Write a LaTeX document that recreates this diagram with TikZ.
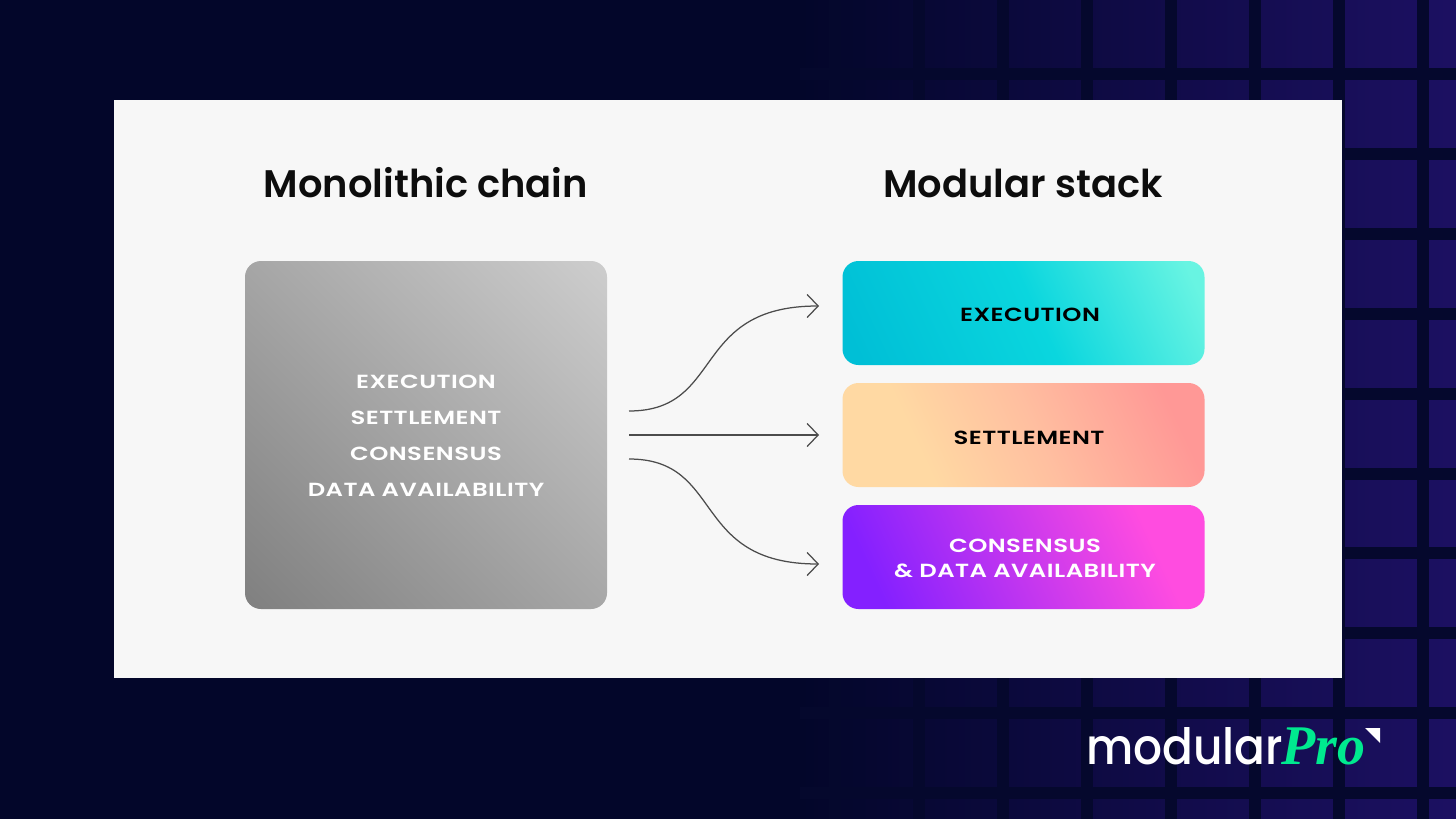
\documentclass[tikz,border=0pt]{standalone}
\usepackage{fontspec}
\usetikzlibrary{arrows.meta}
\setmainfont{Poppins}[BoldFont={Poppins SemiBold}]
\newfontfamily\widefont{Poppins SemiBold}[FakeStretch=1.28,LetterSpace=2.5]
\newfontfamily\logofont{Poppins Medium}[FakeStretch=.91]
\newfontfamily\proofont{Liberation Serif}
\definecolor{night}{HTML}{03062A}
\definecolor{gridline}{HTML}{05082D}
\definecolor{cell}{HTML}{1C1062}
\definecolor{panel}{HTML}{F7F7F7}
\definecolor{mint}{HTML}{00E98F}
\definecolor{chaina}{HTML}{808080}
\definecolor{chainb}{HTML}{CDCDCD}
\definecolor{execa}{HTML}{00BFD6}
\definecolor{execb}{HTML}{0AD6DE}
\definecolor{execc}{HTML}{68F4E2}
\definecolor{settlea}{HTML}{FFD9A3}
\definecolor{settleb}{HTML}{FFBFA0}
\definecolor{settlec}{HTML}{FF9896}
\definecolor{consa}{HTML}{8420FF}
\definecolor{consb}{HTML}{FF4CE0}
\pgfdeclareverticalshading{chainfade}{100bp}{color(0bp)=(chaina); color(15bp)=(chaina); color(85bp)=(chainb); color(100bp)=(chainb)}
\pgfdeclareverticalshading{execfade}{100bp}{color(0bp)=(execa); color(20bp)=(execa); color(52bp)=(execb); color(80bp)=(execc); color(100bp)=(execc)}
\pgfdeclareverticalshading{settlefade}{100bp}{color(0bp)=(settlea); color(32bp)=(settlea); color(52bp)=(settleb); color(76bp)=(settlec); color(100bp)=(settlec)}
\pgfdeclareverticalshading{consfade}{100bp}{color(0bp)=(consa); color(24bp)=(consa); color(72bp)=(consb); color(100bp)=(consb)}
\tikzset{
  stackbox/.style={rounded corners=16pt,minimum width=362pt,inner sep=0pt},
  stacklabel/.style={font=\widefont\fontsize{19}{25}\selectfont,align=center},
  title/.style={font=\bfseries\fontsize{38.4}{44}\selectfont,text=black!95},
  flow/.style={draw=black!70,line width=1.25pt,-{Straight Barb[length=11pt,width=23pt,line width=1.25pt]}},
}
\begin{document}
\begin{tikzpicture}[x=1pt,y=-1pt]
\useasboundingbox (0,0) rectangle (1456,819);
\fill[night] (0,0) rectangle (1456,819);
\shade[left color=night,right color=cell] (800,0) rectangle (1456,819);
\foreach \i in {0,...,7}
  \fill[gridline] (835+84*\i-6,0) rectangle (835+84*\i+6,819);
\foreach \j in {0,...,9}
  \fill[gridline] (800,74+79.9*\j-6) rectangle (1456,74+79.9*\j+6);
\fill[panel] (114,100) rectangle (1342,678);
\node[title] (monotitle) at (426,183) {Monolithic chain};
\node[title] (modtitle) at (1023,183) {Modular stack};
\node[stackbox,minimum height=348pt,shading=chainfade,shading angle=-45] (chain) at (426,435) {};
\node[stacklabel,font=\widefont\fontsize{19}{36}\selectfont,text=white] (chainlabel) at (426,436)
  {EXECUTION\\SETTLEMENT\\CONSENSUS\\DATA AVAILABILITY};
\node[stackbox,minimum height=104pt,shading=execfade,shading angle=-65] (exec) at (1023.5,313) {};
\node[stacklabel] (execlabel) at (1030,315) {EXECUTION};
\node[stackbox,minimum height=104pt,shading=settlefade,shading angle=-65] (settle) at (1023.5,435) {};
\node[stacklabel] (settlelabel) at (1029,438) {SETTLEMENT};
\node[stackbox,minimum height=104pt,shading=consfade,shading angle=-65] (consensus) at (1023.5,557) {};
\node[stacklabel,text=white] (conslabel) at (1025,558) {CONSENSUS\\\& DATA AVAILABILITY};
\coordinate (outa) at (629,411);
\coordinate (outb) at (629,435);
\coordinate (outc) at (629,459);
\coordinate (ina) at (819,306);
\coordinate (inb) at (819,435);
\coordinate (inc) at (819,564);
\draw[flow] (outa) .. controls (725,411) and (690,306) .. (ina);
\draw[flow] (outb) -- (inb);
\draw[flow] (outc) .. controls (725,459) and (690,564) .. (inc);
\node[anchor=base west,inner sep=0pt,text=white,font=\logofont\fontsize{50}{50}\selectfont] (logotext) at (1086,764) {modular};
\node[anchor=base west,inner sep=0pt,text=mint,font=\proofont\bfseries\itshape\fontsize{56}{56}\selectfont] (logopro) at (1281,764) {Pro};
\fill[white] (1365,728) -- (1380,728) -- (1380,743) -- cycle;
\end{tikzpicture}
\end{document}
